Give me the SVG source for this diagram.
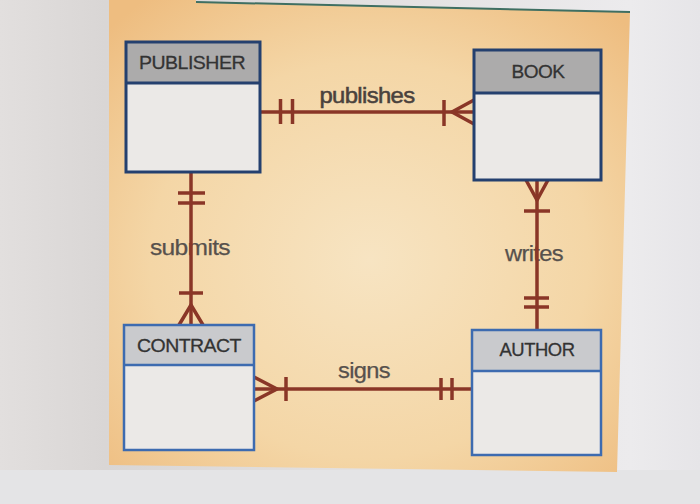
<svg xmlns="http://www.w3.org/2000/svg" width="700" height="504" viewBox="0 0 700 504">
  <defs>
    <radialGradient id="panelGrad" cx="0.5" cy="0.55" r="0.7">
      <stop offset="0" stop-color="#f7e4c2"/>
      <stop offset="0.6" stop-color="#f4d6a6"/>
      <stop offset="1" stop-color="#eebd80"/>
    </radialGradient>
    <linearGradient id="pageGrad" x1="0" y1="0" x2="1" y2="0">
      <stop offset="0" stop-color="#e2dfde"/>
      <stop offset="0.15" stop-color="#d9d6d5"/>
      <stop offset="0.9" stop-color="#ecebed"/>
      <stop offset="1" stop-color="#e6e5e8"/>
    </linearGradient>
    <style>
      .conn { stroke: #8a3627; stroke-width: 3.5; fill: none; stroke-linecap: butt; }
      .tick { stroke: #8a3627; stroke-width: 3.5; fill: none; }
      .body { fill: #ebe9e7; }
      .hdrDark { fill: #acabab; }
      .hdrLight { fill: #c9cacd; }
      .borderDark { fill: none; stroke: #24406f; stroke-width: 3; }
      .borderLight { fill: none; stroke: #3d6bb0; stroke-width: 2.5; }
      .sepDark { stroke: #24406f; stroke-width: 3; }
      .sepLight { stroke: #3d6bb0; stroke-width: 2.5; }
      .title { font-family: "Liberation Sans", Arial, sans-serif; font-size: 19px; fill: #333333; stroke: #333333; stroke-width: 0.3; text-anchor: middle; letter-spacing: -0.5px; }
      .lbl { font-family: "Liberation Sans", Arial, sans-serif; font-size: 22px; fill: #57514d; stroke: #57514d; stroke-width: 0.25; text-anchor: middle; letter-spacing: -0.6px; }
      .lblDark { fill: #4a423d; stroke: #4a423d; stroke-width: 0.5; }
    </style>
  </defs>

  <!-- page background -->
  <rect x="0" y="0" width="700" height="504" fill="url(#pageGrad)"/>
  <rect x="0" y="470" width="700" height="34" fill="#e4e4e6"/>
  <!-- orange panel -->
  <polygon points="109,0 196,0 196,2 630,12 617,472 109,465" fill="url(#panelGrad)"/>
  <!-- top screen edge line -->
  <line x1="196" y1="2" x2="630" y2="12" stroke="#3f6f62" stroke-width="2"/>

  <g id="connectors">
    <!-- publishes -->
    <g id="c-publishes">
      <text class="lbl lblDark" x="367" y="103" textLength="95" lengthAdjust="spacingAndGlyphs">publishes</text>
      <line class="conn" x1="260" y1="112" x2="474" y2="112"/>
      <line class="tick" x1="280.5" y1="99" x2="280.5" y2="124"/>
      <line class="tick" x1="292.5" y1="99" x2="292.5" y2="124"/>
      <line class="tick" x1="444" y1="100" x2="444" y2="126"/>
      <polyline class="conn" points="474,100 452,112 474,124"/>
    </g>
    <!-- submits -->
    <g id="c-submits">
      <text class="lbl" x="190" y="255" textLength="80" lengthAdjust="spacingAndGlyphs">submits</text>
      <line class="conn" x1="191" y1="172" x2="191" y2="325"/>
      <line class="tick" x1="178" y1="193" x2="205" y2="193"/>
      <line class="tick" x1="178" y1="203" x2="205" y2="203"/>
      <line class="tick" x1="179" y1="293" x2="203" y2="293"/>
      <polyline class="conn" points="179,325 191,305 203,325"/>
    </g>
    <!-- writes -->
    <g id="c-writes">
      <text class="lbl" x="534" y="261" textLength="58" lengthAdjust="spacingAndGlyphs">writes</text>
      <line class="conn" x1="537" y1="180" x2="537" y2="330"/>
      <polyline class="conn" points="526,180 537,200 548,180"/>
      <line class="tick" x1="524" y1="211" x2="550" y2="211"/>
      <line class="tick" x1="524" y1="298" x2="549" y2="298"/>
      <line class="tick" x1="524" y1="307" x2="549" y2="307"/>
    </g>
    <!-- signs -->
    <g id="c-signs">
      <text class="lbl" x="364" y="378" textLength="52" lengthAdjust="spacingAndGlyphs">signs</text>
      <line class="conn" x1="254" y1="389" x2="472" y2="389"/>
      <polyline class="conn" points="254,377 277,389 254,401"/>
      <line class="tick" x1="286" y1="377" x2="286" y2="401"/>
      <line class="tick" x1="441" y1="378" x2="441" y2="400"/>
      <line class="tick" x1="452" y1="378" x2="452" y2="400"/>
    </g>
  </g>

  <g id="PUBLISHER">
    <rect class="body" x="126" y="42" width="134" height="130"/>
    <rect class="hdrDark" x="126" y="42" width="134" height="41"/>
    <line class="sepDark" x1="126" y1="83" x2="260" y2="83"/>
    <rect class="borderDark" x="126" y="42" width="134" height="130"/>
    <text class="title" x="192" y="69" textLength="106" lengthAdjust="spacingAndGlyphs">PUBLISHER</text>
  </g>

  <g id="BOOK">
    <rect class="body" x="474" y="50" width="127" height="130"/>
    <rect class="hdrDark" x="474" y="50" width="127" height="43"/>
    <line class="sepDark" x1="474" y1="93" x2="601" y2="93"/>
    <rect class="borderDark" x="474" y="50" width="127" height="130"/>
    <text class="title" x="538" y="78" textLength="53" lengthAdjust="spacingAndGlyphs">BOOK</text>
  </g>

  <g id="CONTRACT">
    <rect class="body" x="124" y="325" width="130" height="125"/>
    <rect class="hdrLight" x="124" y="325" width="130" height="40"/>
    <line class="sepLight" x1="124" y1="365" x2="254" y2="365"/>
    <rect class="borderLight" x="124" y="325" width="130" height="125"/>
    <text class="title" x="189" y="352" textLength="104" lengthAdjust="spacingAndGlyphs">CONTRACT</text>
  </g>

  <g id="AUTHOR">
    <rect class="body" x="472" y="330" width="129" height="125"/>
    <rect class="hdrLight" x="472" y="330" width="129" height="41"/>
    <line class="sepLight" x1="472" y1="371" x2="601" y2="371"/>
    <rect class="borderLight" x="472" y="330" width="129" height="125"/>
    <text class="title" x="537" y="356" textLength="75" lengthAdjust="spacingAndGlyphs">AUTHOR</text>
  </g>
</svg>
